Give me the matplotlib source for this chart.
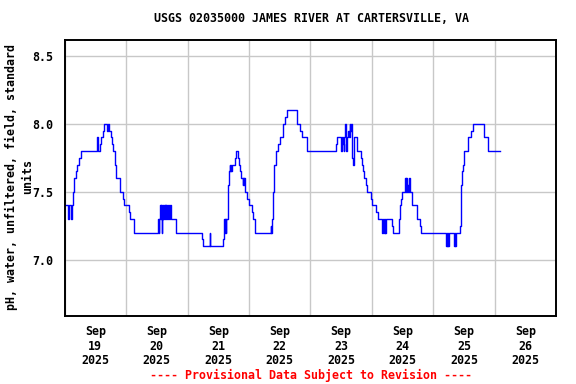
import datetime as dt
import matplotlib
matplotlib.use("Agg")
import matplotlib.pyplot as plt

# pH readings, hours since 2025-09-19 00:00 (step changes)
hours = [
    0.0, 1.3, 1.6, 2.6, 3.0, 3.15, 3.55, 4.45, 5.0, 5.75, 6.4, 12.7, 13.05,
    13.95, 14.35, 15.15, 15.55, 16.55, 16.95, 17.5, 18.15, 18.5, 18.9, 19.55,
    19.85, 20.2, 21.8, 22.95, 23.35, 25.3, 25.7, 27.25,
    36.6, 36.9, 37.0, 37.2, 37.55, 37.7, 37.9, 38.0, 38.3, 38.5, 38.85, 39.1,
    39.3, 39.5, 39.7, 39.9, 40.2, 40.7, 41.2, 41.7, 43.5,
    53.6, 54.0, 56.6, 56.9, 61.8, 62.05, 62.3, 62.5, 62.8, 63.0, 63.1, 63.6,
    63.9, 64.3, 64.4, 64.6, 64.8, 65.0, 65.3, 66.6, 66.9, 67.5, 67.9, 68.3,
    68.7, 69.5, 69.7, 69.9, 70.1, 70.4, 71.4, 72.1, 73.0, 73.4, 74.5,
    80.5, 80.7, 80.9, 81.2, 81.6, 82.4, 83.4, 83.9, 85.1, 86.0, 86.8, 90.6,
    92.0, 92.5, 94.5,
    105.8, 106.35, 108.0, 108.3, 108.6, 109.0, 109.2, 109.6, 109.8, 110.0,
    110.3, 110.6, 110.9, 111.3, 111.5, 111.8, 112.1, 112.3, 112.6, 112.9,
    114.3, 115.6, 116.0, 116.4, 116.8, 117.8, 118.2, 119.5, 119.9, 121.7,
    122.2,
    124.1, 124.4, 124.6, 124.9, 125.1, 125.3, 127.7, 128.2, 130.5, 130.9,
    131.2, 131.6, 132.9, 133.1, 133.3, 133.5, 133.8, 134.0, 134.3, 134.5,
    134.8, 135.7, 137.4, 138.8, 139.1,
    149.0, 149.2, 149.4, 149.7, 149.8, 150.0, 152.2, 152.4, 152.5, 152.7,
    154.3, 154.6, 155.0, 155.5, 155.9, 157.4, 158.7, 159.4, 163.7, 165.5,
    169.8,
]
ph = [
    7.4, 7.3, 7.4, 7.3, 7.4, 7.5, 7.6, 7.65, 7.7, 7.75, 7.8, 7.9, 7.8,
    7.85, 7.9, 7.95, 8.0, 7.95, 8.0, 7.95, 7.9, 7.85, 7.8, 7.75,
    7.7, 7.6, 7.5, 7.45, 7.4, 7.35, 7.3, 7.2,
    7.3, 7.2, 7.3, 7.4, 7.3, 7.4, 7.2, 7.3, 7.4, 7.3, 7.4, 7.3,
    7.4, 7.3, 7.4, 7.3, 7.4, 7.3, 7.4, 7.3, 7.2,
    7.15, 7.1, 7.2, 7.1, 7.15, 7.2, 7.3, 7.2, 7.3, 7.2, 7.3, 7.4,
    7.55, 7.65, 7.7, 7.65, 7.7, 7.65, 7.7, 7.75, 7.8, 7.75, 7.7, 7.65,
    7.6, 7.55, 7.6, 7.55, 7.6, 7.5, 7.45, 7.4, 7.35, 7.3, 7.2,
    7.25, 7.2, 7.3, 7.5, 7.7, 7.8, 7.85, 7.9, 8.0, 8.05, 8.1, 8.0,
    7.95, 7.9, 7.8,
    7.85, 7.9, 7.8, 7.9, 7.85, 7.8, 7.9, 8.0, 7.85, 7.8,
    7.9, 7.95, 7.9, 8.0, 7.95, 8.0, 7.95, 7.75, 7.7, 7.9,
    7.8, 7.75, 7.7, 7.65, 7.6, 7.55, 7.5, 7.45, 7.4, 7.35,
    7.3,
    7.2, 7.3, 7.2, 7.3, 7.2, 7.3, 7.25, 7.2, 7.3, 7.4,
    7.45, 7.5, 7.6, 7.5, 7.6, 7.5, 7.55, 7.5, 7.55, 7.6,
    7.5, 7.4, 7.3, 7.25, 7.2,
    7.1, 7.2, 7.1, 7.2, 7.1, 7.2, 7.1, 7.2, 7.1, 7.2,
    7.25, 7.55, 7.65, 7.7, 7.8, 7.9, 7.95, 8.0, 7.9, 7.8,
    7.8,
]

start = dt.datetime(2025, 9, 19)
times = [start + dt.timedelta(hours=h) for h in hours]
yticks = [7.0, 7.5, 8.0, 8.5]
days = [start + dt.timedelta(days=i) for i in range(9)]
noons = [d + dt.timedelta(hours=12) for d in days[:-1]]

font = "DejaVu Sans Mono"
fs = 8.4

fig = plt.figure(figsize=(5.76, 3.84), dpi=100)
ax = fig.add_axes([0.1122, 0.178, 0.8537, 0.7178])

ax.step(times, ph, where="post", color="#0000ff", linewidth=1.0)

ax.set_xlim(days[0], days[-1])
ax.set_ylim(6.59, 8.615)

ax.set_yticks(yticks)
ax.set_yticklabels(["%.1f" % v for v in yticks], family=font,
                   fontweight="bold", fontsize=fs)
ax.set_xticks(noons)
ax.set_xticklabels(["%s\n%d\n%d" % (d.strftime("%b"), d.day, d.year) for d in noons],
                   family=font, fontweight="bold", fontsize=fs, linespacing=1.12)
ax.set_xticks(days, minor=True)
ax.tick_params(axis="both", which="both", length=0)
ax.tick_params(axis="y", pad=8)
ax.tick_params(axis="x", pad=7)

ax.grid(True, axis="y", which="major", color="#c8c8c8", linewidth=1.0)
ax.grid(True, axis="x", which="minor", color="#c8c8c8", linewidth=1.0)
ax.grid(False, axis="x", which="major")
for s in ax.spines.values():
    s.set_linewidth(1.4)

fig.text(311 / 576, 1 - 19 / 384, "USGS 02035000 JAMES RIVER AT CARTERSVILLE, VA",
         ha="center", va="center", family=font, fontweight="bold", fontsize=fs)
fig.text(19.5 / 576, 1 - 177 / 384, "pH, water, unfiltered, field, standard\nunits",
         ha="center", va="center", rotation=90, multialignment="center",
         family=font, fontweight="bold", fontsize=fs, linespacing=1.25)
fig.text(311 / 576, 1 - 375 / 384, "---- Provisional Data Subject to Revision ----",
         ha="center", va="center", family=font, fontweight="bold", fontsize=fs,
         color="red")

fig.savefig("out.png", dpi=100)
